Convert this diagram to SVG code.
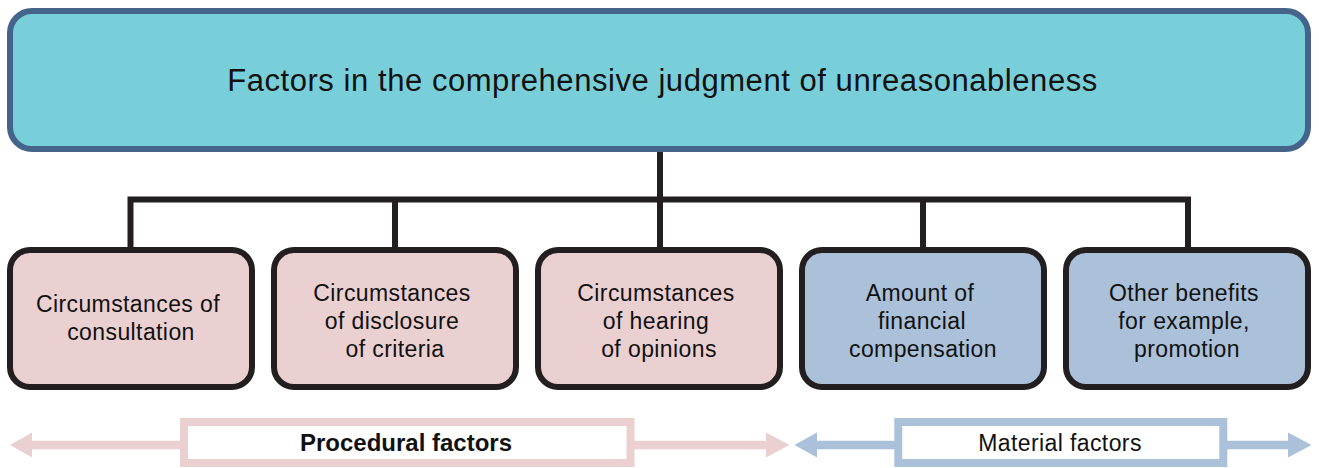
<svg xmlns="http://www.w3.org/2000/svg" width="1319" height="468" viewBox="0 0 1319 468">
<style>
.t{font-family:"Liberation Sans",Arial,sans-serif;fill:#111;text-anchor:middle}
.n{font-size:23px;letter-spacing:0.4px}
.box{stroke:#231f20;stroke-width:6}
.pink{fill:#ebd0d2}
.blue{fill:#abc1da}
.con{fill:none;stroke:#231f20;stroke-width:6;stroke-linejoin:miter;stroke-linecap:butt}
</style>
<rect width="1319" height="468" fill="#ffffff"/>
<g id="connectors">
<path class="con" d="M660,150 V250"/>
<path class="con" d="M130.5,250 V199.5 H1188 V250"/>
<path class="con" d="M395,199.5 V250 M923,199.5 V250"/>
</g>
<g id="root">
<rect x="10" y="11" width="1298" height="138" rx="22" fill="#79cfd9" stroke="#44648b" stroke-width="6"/>
<text class="t" x="662.5" y="90.5" font-size="31" letter-spacing="0.55">Factors in the comprehensive judgment of unreasonableness</text>
</g>
<g id="n1">
<rect class="box pink" x="10" y="250" width="242" height="137" rx="20"/>
<text class="t n" x="128" y="312">Circumstances of</text>
<text class="t n" x="131" y="340">consultation</text>
</g>
<g id="n2">
<rect class="box pink" x="274" y="250" width="242" height="137" rx="20"/>
<text class="t n" x="392" y="301">Circumstances</text>
<text class="t n" x="392" y="329">of disclosure</text>
<text class="t n" x="395" y="357">of criteria</text>
</g>
<g id="n3">
<rect class="box pink" x="538" y="250" width="242" height="137" rx="20"/>
<text class="t n" x="656" y="301">Circumstances</text>
<text class="t n" x="656" y="329">of hearing</text>
<text class="t n" x="659" y="357">of opinions</text>
</g>
<g id="n4">
<rect class="box blue" x="802" y="250" width="242" height="137" rx="20"/>
<text class="t n" x="920" y="301">Amount of</text>
<text class="t n" x="922" y="329">financial</text>
<text class="t n" x="923" y="357">compensation</text>
</g>
<g id="n5">
<rect class="box blue" x="1066" y="250" width="242" height="137" rx="20"/>
<text class="t n" x="1184" y="301">Other benefits</text>
<text class="t n" x="1184" y="329">for example,</text>
<text class="t n" x="1187" y="357">promotion</text>
</g>
<g id="procedural">
<polygon fill="#ebd0d2" points="10,445 32,432.5 32,440.7 766,440.7 766,432.5 789.5,445 766,457.5 766,449.3 32,449.3 32,457.5"/>
<rect x="184" y="422" width="446.5" height="41" fill="#ffffff" stroke="#ebd0d2" stroke-width="8"/>
<text class="t" x="406" y="451" font-size="24" font-weight="bold">Procedural factors</text>
</g>
<g id="material">
<polygon fill="#abc1da" points="794.5,445 817,432.5 817,440.7 1288,440.7 1288,432.5 1311.5,445 1288,457.5 1288,449.3 817,449.3 817,457.5"/>
<rect x="898.3" y="422" width="325" height="41" fill="#ffffff" stroke="#abc1da" stroke-width="8"/>
<text class="t" x="1060" y="451" font-size="23" letter-spacing="0.4">Material factors</text>
</g>
</svg>
